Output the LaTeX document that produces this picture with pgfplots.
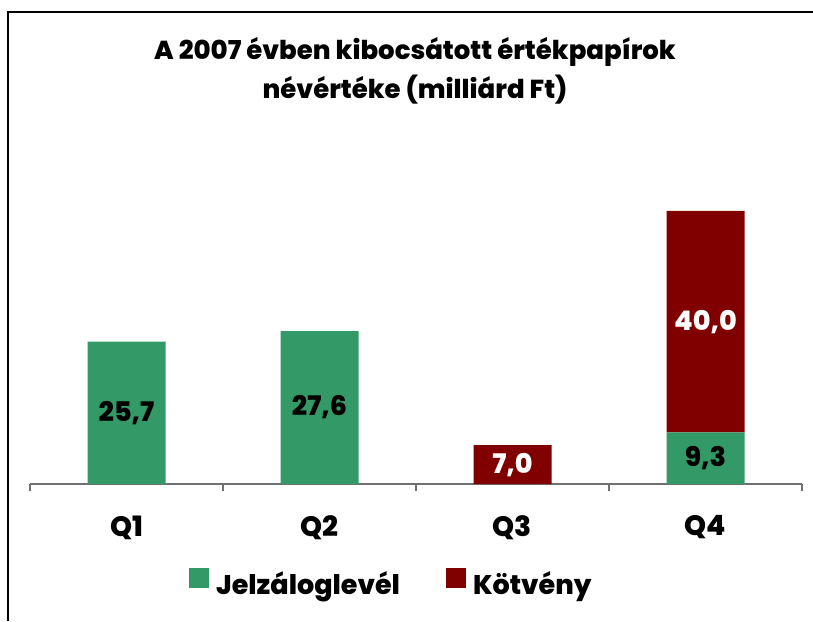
\documentclass[border=0pt]{standalone}
\usepackage{pgfplots}
\pgfplotsset{compat=1.18}
\usepackage{fontspec}
\setmainfont{Poppins}[BoldFont={Poppins ExtraBold}]
\definecolor{jzl}{HTML}{339966}
\definecolor{kotv}{HTML}{800000}
\definecolor{axgray}{HTML}{707070}

\begin{document}
\begin{tikzpicture}[x=1pt,y=1pt]
\useasboundingbox (0,0) rectangle (813,-621);
% frame (only left and top edges visible)
\draw[line width=1.5pt] (8,-621) -- (8,-12) -- (813,-12);
% title
\node[align=center, font=\bfseries\fontsize{26}{39}\selectfont] at (415,-71)
  {A 2007 évben kibocsátott értékpapírok\\névértéke (milliárd Ft)};

\begin{axis}[
  at={(30pt,-484pt)}, anchor=south west,
  scale only axis, width=772pt, height=354.6pt,
  xmin=-0.5, xmax=3.5, ymin=0, ymax=64,
  ybar stacked, bar width=78pt,
  axis x line*=bottom, axis y line=none,
  x axis line style={axgray, line width=1.3pt},
  xtick={0,1,2,3}, xticklabels={Q1,Q2,Q3,Q4},
  major tick length=0pt,
  minor xtick={-0.5,0.5,1.5,2.5,3.5}, minor tick length=7pt,
  tick align=outside,
  xtick style={axgray, line width=1.3pt},
  xticklabel style={font=\bfseries\fontsize{28}{32}\selectfont, yshift=-28pt},
  legend style={at={(0.468,-0.279)}, anchor=center, legend columns=2,
    draw=none, fill=none, font=\bfseries\fontsize{27}{32}\selectfont,
    /tikz/every even column/.append style={column sep=44pt}},
  legend image code/.code={\fill[#1] (0pt,-4pt) rectangle (20pt,16pt);
    \path (25pt,0pt);},
]
\addplot[fill=jzl, draw=none] coordinates {(0,25.7) (1,27.6) (2,0) (3,9.3)};
\addplot[fill=kotv, draw=none] coordinates {(0,0) (1,0) (2,7.0) (3,40.0)};
\legend{Jelzáloglevél, Kötvény}
\end{axis}

% value labels, centred in each segment
\begin{axis}[
  at={(30pt,-484pt)}, anchor=south west,
  scale only axis, width=772pt, height=354.6pt,
  xmin=-0.5, xmax=3.5, ymin=0, ymax=64,
  hide axis, clip=false,
  nodes near coords, point meta=explicit symbolic,
  every node near coord/.append style={anchor=center,
    font=\bfseries\fontsize{27}{30}\selectfont},
]
\addplot[draw=none, mark=none] coordinates {
  (0,12.85) [{25,7}] (1,13.8) [{27,6}] (3,4.65) [{9,3}]
};
\addplot[draw=none, mark=none, every node near coord/.append style={text=white}] coordinates {
  (2,3.5) [{7,0}] (3,29.3) [{40,0}]
};
\end{axis}
\end{tikzpicture}
\end{document}
